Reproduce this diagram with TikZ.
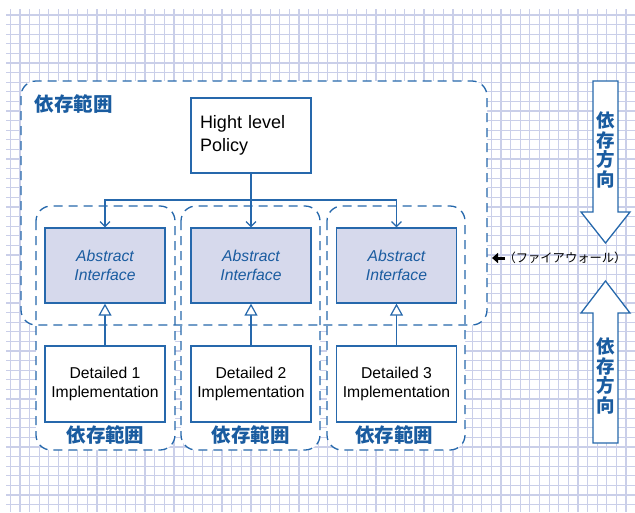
\documentclass[tikz,border=0pt]{standalone}
\usepackage{fontspec}
\setmainfont{Liberation Sans}
\newfontfamily\jp{Noto Sans CJK JP}
\usetikzlibrary{arrows.meta}
\definecolor{lblue}{RGB}{38,104,172}
\definecolor{tblue}{RGB}{26,92,160}
\definecolor{afill}{RGB}{214,217,236}
\definecolor{gridc}{RGB}{202,207,233}
\tikzset{
  gridline/.style={draw=gridc, line width=1.2pt},
  regionfill/.style={fill=white, rounded corners=15pt},
  region/.style={draw=lblue, line width=1.3pt, dash pattern=on 9pt off 6pt, rounded corners=15pt},
  box/.style={draw=lblue, line width=1.3pt, fill=white, minimum width=120pt, minimum height=75pt, inner sep=0pt, align=center,
              font=\fontsize{15.7}{19.5}\selectfont},
  abox/.style={box, fill=afill, font=\fontsize{15.7}{19.5}\selectfont\itshape, text=tblue},
  conn/.style={draw=lblue, line width=1.2pt, -{Straight Barb[length=5pt,width=10pt,line width=1.2pt]}},
  inh/.style={draw=lblue, line width=1.2pt, -{Triangle[open, length=12pt, width=13pt, fill=white, line width=1.2pt]}},
  jplabel/.style={text=tblue, font=\jp\bfseries\fontsize{19.5}{19.5}\selectfont, inner sep=0pt},
  vlabel/.style={text=tblue, font=\jp\bfseries\fontsize{18.5}{19.6}\selectfont, inner sep=0pt, align=center},
  bigarrow/.style={draw=lblue, line width=1.3pt, fill=white, line join=miter},
}
\begin{document}
\begin{tikzpicture}[x=1pt,y=-1pt]
\useasboundingbox (0,0) rectangle (635,512);
\fill[white] (0,0) rectangle (635,512);
% grid
\begin{scope}
\clip (6,9) rectangle (635,512);
\foreach \i in {0,...,65} \draw[gridline] ({10.4+9.62*\i},9) -- ({10.4+9.62*\i},512);
\foreach \j in {0,...,52} \draw[gridline] (6,{15+9.6*\j}) -- (635,{15+9.6*\j});
\end{scope}
% region fills
\path[regionfill] (21,81) rectangle (487,325);
\path[regionfill] (36,206) rectangle (175,450);
\path[regionfill] (181,206) rectangle (320,450);
\path[regionfill] (327,206) rectangle (465,450);
% region borders
\draw[region] (21,81) rectangle (487,325);
\draw[region] (36,206) rectangle (175,450);
\draw[region] (181,206) rectangle (320,450);
\draw[region] (327,206) rectangle (465,450);
% labels
\node[jplabel] (lout) at (73.5,104) {依存範囲};
\node[jplabel] (l1) at (105.5,435) {依存範囲};
\node[jplabel] (l2) at (250.5,435) {依存範囲};
\node[jplabel] (l3) at (394,435) {依存範囲};
% boxes
\node[box, text width=102pt, inner sep=9pt, minimum width=0pt, minimum height=75pt, align=left, font=\fontsize{18}{22.5}\selectfont] (pol) at (251,135.5) {Hight level\\Policy};
\node[abox] (a1) at (105,265.5) {Abstract\\Interface};
\node[abox] (a2) at (251,265.5) {Abstract\\Interface};
\node[abox] (a3) at (396.5,265.5) {Abstract\\Interface};
\node[box, minimum height=76pt] (d1) at (105,384) {Detailed 1\\Implementation};
\node[box, minimum height=76pt] (d2) at (251,384) {Detailed 2\\Implementation};
\node[box, minimum height=76pt] (d3) at (396.5,384) {Detailed 3\\Implementation};
% connectors
\coordinate (j) at (251,200);
\draw[conn] (pol.south) -- (a2.north);
\draw[conn] (j) -| (a1.north);
\draw[conn] (j) -| (a3.north);
\draw[inh] (d1.north) -- (a1.south);
\draw[inh] (d2.north) -- (a2.south);
\draw[inh] (d3.north) -- (a3.south);
% firewall
\coordinate (fwA) at (505,258);
\coordinate (fwB) at (492,258);
\draw[line width=3pt, -{Triangle[length=6pt,width=10pt]}] (fwA) -- (fwB);
\node[inner sep=0pt, font=\jp\fontsize{12.3}{12.3}\selectfont] (fw) at (565,257.5) {（ファイアウォール）};
% big arrows
\draw[bigarrow] (593,81) -- (618,81) -- (618,212) -- (630,212) -- (605.5,243) -- (581,212) -- (593,212) -- cycle;
\node[vlabel] (dn) at (605.5,150) {依\\存\\方\\向};
\draw[bigarrow] (593,443) -- (618,443) -- (618,313) -- (630,313) -- (605.5,281) -- (581,313) -- (593,313) -- cycle;
\node[vlabel] (up) at (605.5,376) {依\\存\\方\\向};
\end{tikzpicture}
\end{document}
